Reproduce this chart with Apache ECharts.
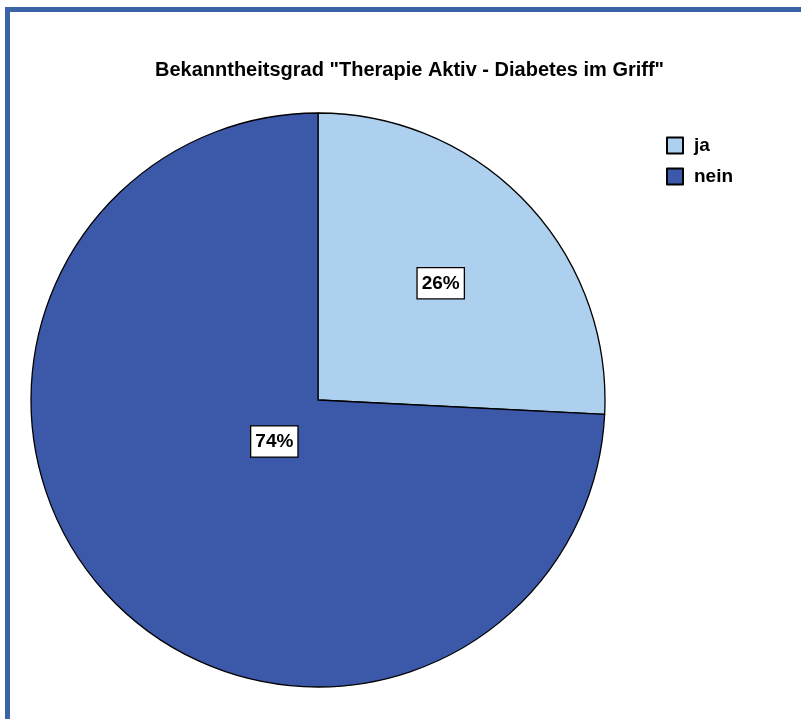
<!DOCTYPE html>
<html>
<head>
<meta charset="utf-8">
<script src="https://cdn.jsdelivr.net/npm/echarts@6/dist/echarts.min.js"></script>
<style>
html,body{margin:0;padding:0;background:#fff;}
#chart{width:801px;height:719px;}
</style>
</head>
<body>
<div id="chart"></div>
<script>
const titleText = 'Bekanntheitsgrad "Therapie Aktiv - Diabetes im Griff"';
const categories = ['ja', 'nein'];
const values = [25.8, 74.2];
const colors = ['#acd0ee', '#3c58a9'];
const labelRadiusFrac = [0.59, 0.21];

const CX = 318, CY = 400, R = 287;

const chart = echarts.init(document.getElementById('chart'));
const option = {
  animation: false,
  backgroundColor: '#ffffff',
  graphic: [{
    type: 'rect',
    shape: { x: 7.5, y: 9.5, width: 1000, height: 1000 },
    style: { fill: 'none', stroke: '#3b64a7', lineWidth: 5 },
    silent: true
  }],
  title: {
    text: titleText,
    left: 150,
    top: 55,
    textStyle: { fontFamily: 'Liberation Sans, Arial, sans-serif', fontWeight: 'bold', fontSize: 20, color: '#000' }
  },
  legend: {
    orient: 'vertical',
    left: 661,
    top: 131,
    icon: 'rect',
    itemWidth: 16,
    itemHeight: 16,
    itemGap: 12,
    data: categories,
    textStyle: { fontFamily: 'Liberation Sans, Arial, sans-serif', fontWeight: 'bold', fontSize: 19, color: '#000', lineHeight: 18, padding: [0, 0, 0, 6] }
  },
  series: [{
    type: 'pie',
    center: [CX, CY],
    radius: R,
    startAngle: 90,
    clockwise: true,
    avoidLabelOverlap: false,
    itemStyle: { borderColor: '#000', borderWidth: 1.3 },
    label: {
      show: true,
      position: 'inside',
      formatter: function (p) { return Math.round(p.percent) + '%'; },
      fontFamily: 'Liberation Sans, Arial, sans-serif',
      fontWeight: 'bold',
      fontSize: 19,
      color: '#000',
      backgroundColor: '#fff',
      borderColor: '#000',
      borderWidth: 1.3,
      padding: [6, 4, 5, 4]
    },
    labelLine: { show: false },
    emphasis: { disabled: true },
    labelLayout: function (params) {
      const r = params.labelRect;
      const lx = r.x + r.width / 2, ly = r.y + r.height / 2;
      const vx = lx - CX, vy = ly - CY;
      const len = Math.sqrt(vx * vx + vy * vy) || 1;
      const target = labelRadiusFrac[params.dataIndex] * R;
      return { dx: vx / len * target - vx, dy: vy / len * target - vy };
    },
    data: categories.map(function (c, i) {
      return { name: c, value: values[i], itemStyle: { color: colors[i] } };
    })
  }]
};
chart.setOption(option);
</script>
</body>
</html>
